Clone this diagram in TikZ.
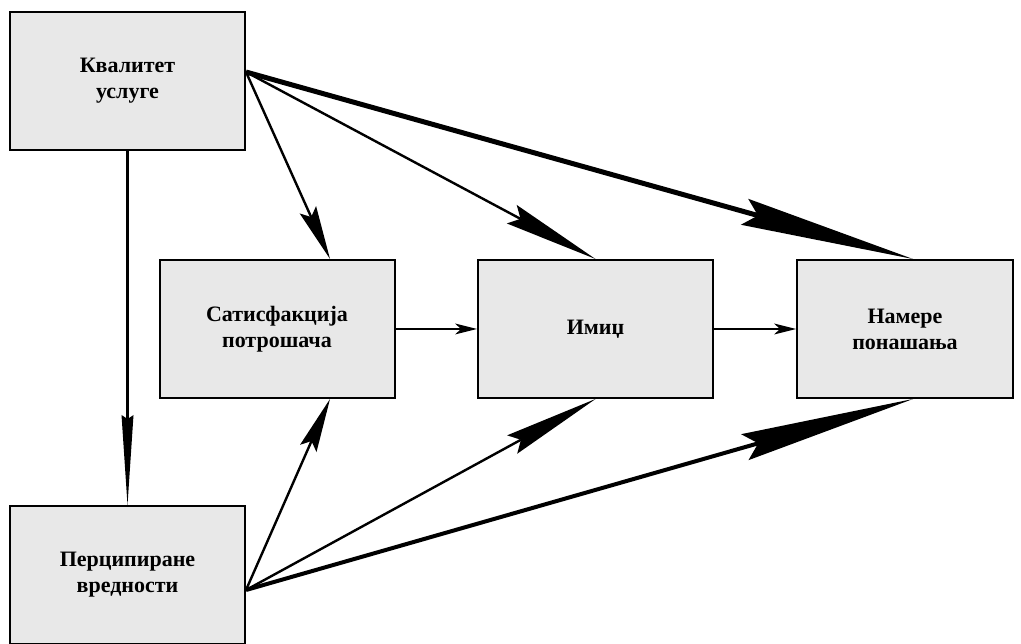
\documentclass[tikz,border=0pt]{standalone}
\usepackage{fontspec}
\setmainfont{Liberation Serif}
\usetikzlibrary{arrows.meta,calc}
\begin{document}
\begin{tikzpicture}[x=1pt,y=-1pt,
  box/.style={draw=black, line width=2pt, fill=black!9, minimum width=235pt,
    minimum height=138pt, inner sep=0pt, align=center,
    font=\fontsize{22}{26}\selectfont\bfseries},
  wide/.style={box, minimum width=216pt},
  thin/.style={line width=2.4pt},
  link/.style={line width=1.8pt, -{Stealth[length=22pt,width=11pt,inset=6pt,line width=0pt]}},
  shortkite/.style={thin, -{Stealth[length=54pt,width=18pt,inset=8pt,line width=0pt]}},
  midkite/.style={thin, -{Stealth[length=95pt,width=21pt,inset=10pt,line width=0pt]}},
  longkite/.style={-{Stealth[length=175pt,width=27pt,inset=14pt,line width=0pt]}},
  downkite/.style={thin, -{Stealth[length=90pt,width=12pt,inset=4pt,line width=0pt]}}]
\useasboundingbox (0,0) rectangle (1021,644);

% boxes
\node[box] (Q) at (127.5,81) {Квалитет\\услуге};
\node[box] (S) at (277,329) {Сатисфакција\\потрошача};
\node[box] (I) at (595.5,329) {Имиџ};
\node[wide] (N) at (905,329) {Намере\\понашања};
\node[box] (P) at (127.5,575) {Перципиране\\вредности};

% attachment points on the box edges
\coordinate (qo) at ($(Q.east)+(0,-9)$);
\coordinate (po) at ($(P.east)+(0,15)$);
\coordinate (sn) at ($(S.north)+(53,0)$);
\coordinate (ss) at ($(S.south)+(53,0)$);
\coordinate (nn) at ($(N.north)+(8,0)$);
\coordinate (ns) at ($(N.south)+(8,0)$);

% arrows from service quality
\draw[downkite] (Q.south) -- (P.north);
\draw[shortkite] (qo) -- (sn);
\draw[midkite] (qo) -- (I.north);
\draw[longkite, line width=5pt] (qo) -- (nn);

% arrows from perceived value
\draw[shortkite] (po) -- (ss);
\draw[midkite] (po) -- (I.south);
\draw[longkite, line width=4pt] (po) -- (ns);

% chain along the middle row
\draw[link] (S.east) -- (I.west);
\draw[link] (I.east) -- (N.west);
\end{tikzpicture}
\end{document}
